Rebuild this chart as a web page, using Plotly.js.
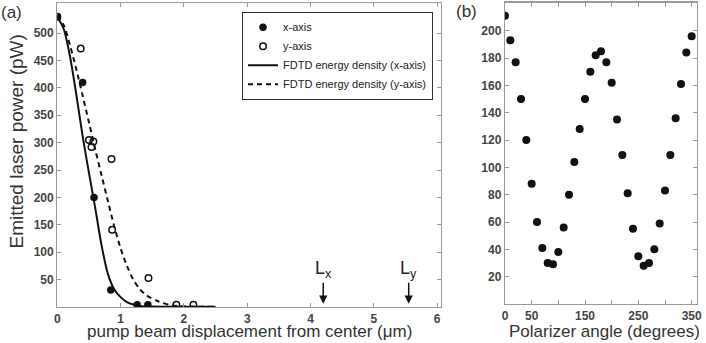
<!DOCTYPE html>
<html>
<head>
<meta charset="utf-8">
<script src="https://cdn.plot.ly/plotly-3.0.1.min.js"></script>
<style>html,body{margin:0;padding:0;background:#fff;}#chart{width:706px;height:343px;}</style>
</head>
<body>
<div id="chart"></div>
<script>
// ---- Panel (a): emitted laser power vs pump displacement ----
const xAxisPtsX = [0, 0.40, 0.58, 0.845, 1.26, 1.43];
const xAxisPtsY = [530, 410, 200, 31, 4, 4];
const yAxisPtsX = [0, 0.37, 0.50, 0.57, 0.54, 0.856, 0.866, 1.44, 1.88, 2.15];
const yAxisPtsY = [530, 472, 305, 302, 292, 270, 141, 53, 4, 4];
const fdtdXx = [0, 0.1, 0.2, 0.3, 0.4, 0.5, 0.6, 0.7, 0.8, 0.9, 1.0, 1.1, 1.2, 1.3, 1.5, 2.0, 2.5];
const fdtdXy = [530, 508, 458, 388, 312, 245, 180, 112, 60, 32, 18, 9, 4.5, 2, 1, 0.5, 0.5];
const fdtdYx = [0, 0.1, 0.2, 0.3, 0.4, 0.5, 0.6, 0.7, 0.8, 0.9, 1.0, 1.1, 1.2, 1.3, 1.4, 1.6, 1.8, 2.0, 2.5];
const fdtdYy = [532, 515, 478, 434, 386, 337, 287, 240, 193, 147, 107, 75, 50, 33, 22, 10, 3, 1, 0.5];
const markLabels = ["L<sub>x</sub>", "L<sub>y</sub>"];
const markX = [4.2, 5.55];
const markY = [6, 6];
const aXTicks = [0, 1, 2, 3, 4, 5, 6];
const aYTicks = [50, 100, 150, 200, 250, 300, 350, 400, 450, 500];

// ---- Panel (b): polarizer angle ----
const polAngle = [0, 10, 20, 30, 40, 50, 60, 70, 80, 90, 100, 110, 120, 130, 140, 150, 160, 170,
                  180, 190, 200, 210, 220, 230, 240, 250, 260, 270, 280, 290, 300, 310, 320, 330, 340, 350];
const polValue = [211, 193, 177, 150, 120, 88, 60, 41, 30, 29, 38, 56, 80, 104, 128, 150, 170, 182,
                  185, 177, 162, 135, 109, 81, 55, 35, 28, 30, 40, 59, 83, 109, 136, 161, 184, 196];
const bXTicks = [0, 50, 100, 150, 200, 250, 300, 350];
const bXTickText = ["0", "50", "", "150", "", "250", "", "350"];
const bYTicks = [20, 40, 60, 80, 100, 120, 140, 160, 180, 200];

const FONT = "Arial, 'Liberation Sans', sans-serif";
const tickFont = {family: FONT, size: 12, color: "#444", weight: "bold"};

const traces = [
  {x: fdtdXx, y: fdtdXy, mode: "lines", name: "FDTD energy density (x-axis)", legendrank: 3,
   line: {color: "#111", width: 2, shape: "spline", smoothing: 0.8}, xaxis: "x", yaxis: "y"},
  {x: fdtdYx, y: fdtdYy, mode: "lines", name: "FDTD energy density (y-axis)", legendrank: 4,
   line: {color: "#111", width: 2, dash: "5px,4px", shape: "spline", smoothing: 0.8}, xaxis: "x", yaxis: "y"},
  {x: xAxisPtsX, y: xAxisPtsY, mode: "markers", name: "x-axis", legendrank: 1,
   marker: {color: "#111", size: 7.5, symbol: "circle"}, xaxis: "x", yaxis: "y"},
  {x: yAxisPtsX, y: yAxisPtsY, mode: "markers", name: "y-axis", legendrank: 2,
   marker: {color: "#111", size: 6.5, symbol: "circle-open", line: {width: 1.5, color: "#111"}}, xaxis: "x", yaxis: "y"},
  {x: polAngle, y: polValue, mode: "markers", name: "polarizer", showlegend: false,
   marker: {color: "#111", size: 8, symbol: "circle"}, xaxis: "x2", yaxis: "y2"}
];

const axCommon = {showline: true, linecolor: "#9a9a9a", linewidth: 1.2, mirror: "ticks",
  ticks: "inside", ticklen: 4, tickcolor: "#9a9a9a", tickwidth: 1, showgrid: false, zeroline: false,
  tickfont: tickFont, automargin: false, tickmode: "array"};

function lab(text, x, y, size, extra) {
  return Object.assign({text: text, xref: "paper", yref: "paper", x: x / 706, y: 1 - y / 343,
    xanchor: "center", yanchor: "middle", showarrow: false,
    font: {family: FONT, size: size, color: "#333"}}, extra || {});
}

const annotations = [
  lab("(a)", 11, 13, 17),
  lab("(b)", 466, 12, 17),
  lab("Emitted laser power (pW)", 15.5, 142, 19, {textangle: -90}),
  lab("pump beam displacement from center (\u03bcm)", 249.5, 331, 17),
  lab("Polarizer angle (degrees)", 604, 331, 17)
];
markLabels.forEach((t, i) => {
  annotations.push({text: t, x: markX[i], y: markY[i], xref: "x", yref: "y", showarrow: true,
    ax: 0, ay: -34, arrowhead: 2, arrowsize: 1.1, arrowwidth: 1.5, arrowcolor: "#111",
    font: {family: FONT, size: 18, color: "#222"}});
});

const layout = {
  width: 706, height: 343, margin: {l: 0, r: 0, t: 0, b: 0},
  paper_bgcolor: "#fff", plot_bgcolor: "#fff",
  font: {family: FONT, color: "#333"},
  xaxis: Object.assign({}, axCommon, {domain: [57.3/706, 441/706], range: [0, 6.06], tickvals: aXTicks, anchor: "y"}),
  yaxis: Object.assign({}, axCommon, {domain: [36/343, 340/343], range: [0, 555], tickvals: aYTicks, anchor: "x"}),
  xaxis2: Object.assign({}, axCommon, {domain: [505/706, 697/706], range: [0, 360], tickvals: bXTicks, ticktext: bXTickText, anchor: "y2"}),
  yaxis2: Object.assign({}, axCommon, {domain: [39/343, 340.3/343], range: [0, 220.5], tickvals: bYTicks, anchor: "x2"}),
  legend: {x: 433/706, y: 1 - 11.7/343, xanchor: "right", yanchor: "top", bgcolor: "#fff",
    bordercolor: "#333", borderwidth: 1, font: {family: FONT, size: 11, color: "#222"},
    tracegroupgap: 0, itemwidth: 30},
  annotations: annotations,
  showlegend: true
};

Plotly.newPlot("chart", traces, layout, {staticPlot: true, displayModeBar: false});
</script>
</body>
</html>
